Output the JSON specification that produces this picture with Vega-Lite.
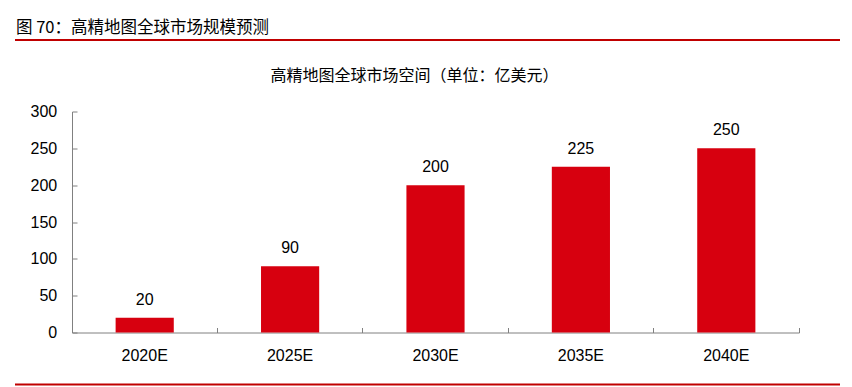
{
  "$schema": "https://vega.github.io/schema/vega-lite/v6.json",
  "background": "white",
  "padding": {"left": 15, "top": 19, "right": 12, "bottom": 0},
  "config": {"view": {"stroke": null}, "font": "Liberation Sans"},
  "spacing": 22.5,
  "vconcat": [
    {
      "title": {"text": "图 70：高精地图全球市场规模预测", "anchor": "start", "font": "Noto Sans CJK SC", "fontSize": 16.5, "fontWeight": "normal", "color": "#000000", "offset": -2, "dx": 1},
      "width": 825,
      "height": 2,
      "view": {"fill": "#c00000", "stroke": null},
      "data": {"values": [{}]},
      "mark": "text",
      "encoding": {"text": {"value": ""}}
    },
    {
      "spacing": 15,
      "vconcat": [
        {
          "title": {"text": "高精地图全球市场空间（单位：亿美元）", "anchor": "middle", "font": "Noto Sans CJK SC", "fontSize": 16, "fontWeight": "normal", "color": "#000000", "offset": 20, "dx": -13},
          "width": 825,
          "height": 221,
          "data": {"values": [
            {"year": "2020E", "value": 20},
            {"year": "2025E", "value": 90},
            {"year": "2030E", "value": 200},
            {"year": "2035E", "value": 225},
            {"year": "2040E", "value": 250}
          ]},
          "encoding": {
            "x": {"field": "year", "type": "nominal", "sort": null, "title": null,
              "scale": {"range": [57, 784], "paddingInner": 0.6, "paddingOuter": 0.3},
              "axis": {"labelAngle": 0, "labelFont": "Liberation Sans", "labelFontSize": 16, "labelColor": "#000000", "labelPadding": 19.8, "domainColor": "#808080", "domainWidth": 1, "tickColor": "#808080", "tickSize": -5, "bandPosition": 1.75, "grid": false}},
            "y": {"field": "value", "type": "quantitative", "title": null,
              "scale": {"domain": [0, 300], "nice": false},
              "axis": {"values": [0, 50, 100, 150, 200, 250, 300], "offset": -57, "labelFont": "Liberation Sans", "labelFontSize": 16, "labelColor": "#000000", "labelPadding": 20.3, "domainColor": "#808080", "domainWidth": 1, "tickColor": "#808080", "tickSize": -5, "grid": false}}
          },
          "layer": [
            {"mark": {"type": "bar", "color": "#d7000f"}},
            {"mark": {"type": "text", "baseline": "alphabetic", "dy": -13, "fontSize": 16, "font": "Liberation Sans", "color": "#000000"},
             "encoding": {"text": {"field": "value", "type": "quantitative"}}}
          ]
        },
        {
          "width": 825,
          "height": 2,
          "view": {"fill": "#c00000", "stroke": null},
          "data": {"values": [{}]},
          "mark": "text",
          "encoding": {"text": {"value": ""}}
        }
      ]
    }
  ]
}
